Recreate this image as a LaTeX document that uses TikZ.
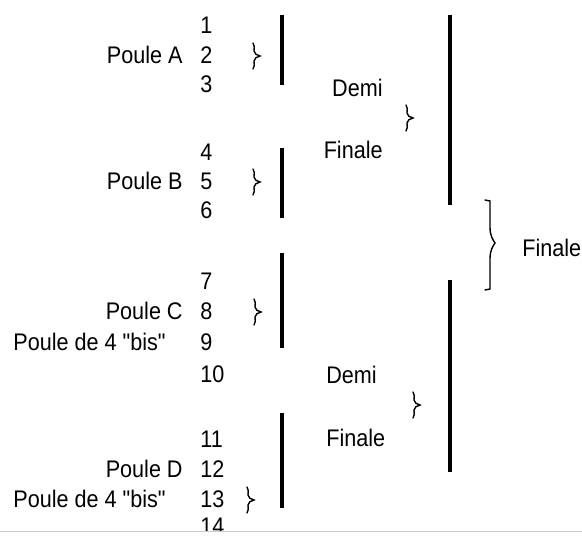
\documentclass[tikz,border=0pt]{standalone}
\usepackage{fontspec}
\setmainfont{Liberation Sans}[FakeStretch=0.9,Ligatures=TeXOff]
\usetikzlibrary{positioning}
\tikzset{every picture/.style={line width=0.75pt}}
% small curly brace, #1 = x of its back, #2 = y of its point
\newcommand{\pbrace}[2]{%
  \draw[brc] (#1-1,#2-13) .. controls (#1+1,#2-11) and (#1,#2-8) .. (#1,#2-5)
    .. controls (#1,#2-2) and (#1+3,#2-1) .. (#1+6,#2)
    .. controls (#1+3,#2+1) and (#1,#2+2) .. (#1,#2+5)
    .. controls (#1,#2+8) and (#1+1,#2+11) .. (#1-1,#2+13);}

\begin{document}
\begin{tikzpicture}[x=1pt,y=-1pt,font=\fontsize{24}{28}\selectfont,
    num/.style={anchor=base west,inner sep=0pt},
    lab/.style={anchor=base east,inner sep=0pt},
    bar/.style={line width=3.2pt},
    brc/.style={line width=1.4pt,line cap=round}]
    \useasboundingbox (0,0) rectangle (582,537);
    % seeds
    \node[num] (n1) at (200,34) {1};
    \node[num] (n2) at (200,64) {2};
    \node[num] (n3) at (200,93) {3};
    \node[num] (n4) at (200,161) {4};
    \node[num] (n5) at (200,190) {5};
    \node[num] (n6) at (200,219) {6};
    \node[num] (n7) at (200,290) {7};
    \node[num] (n8) at (200,320) {8};
    \node[num] (n9) at (200,351) {9};
    \node[num] (n10) at (200,383) {10};
    \node[num] (n11) at (200,448) {11};
    \node[num] (n12) at (200,478) {12};
    \node[num] (n13) at (200,508) {13};
    \begin{scope}
        \clip (0,0) rectangle (582,531);
        \node[num] (n14) at (200,535) {14};
    \end{scope}
    % pools
    \node[lab] (pA) at ([xshift=-17pt]n2.base west) {Poule A};
    \node[lab] (pB) at ([xshift=-17pt]n5.base west) {Poule B};
    \node[lab] (pC) at ([xshift=-17pt]n8.base west) {Poule C};
    \node[num] (bisC) at ([xshift=-187pt]n9.base west) {Poule de 4 "bis"};
    \node[lab] (pD) at ([xshift=-17pt]n12.base west) {Poule D};
    \node[num] (bisD) at ([xshift=-187pt]n13.base west) {Poule de 4 "bis"};
    % semi-finals
    \node[lab] (demi1) at (383,97) {Demi};
    \node[lab] (fin1) at (383,159) {Finale};
    \node[num] (demi2) at (326,384) {Demi};
    \node[num] (fin2) at (326,447) {Finale};
    \node[num] (fin) at (522,257) {Finale};
    % brackets
    \draw[bar] (282,15) -- (282,85);
    \draw[bar] (282,148) -- (282,218);
    \draw[bar] (282,253) -- (282,348);
    \draw[bar] (282,413) -- (282,508);
    \draw[bar] (450,15) -- (450,205);
    \draw[bar] (450,280) -- (450,472);
    \pbrace{254}{56}
    \pbrace{254}{182}
    \pbrace{255}{312}
    \pbrace{248}{500}
    \pbrace{407}{118}
    \pbrace{414}{405}
    \draw[brc] (485,200) -- (490,201) -- (490,227)
        .. controls (490,236) and (493,240) .. (495,243)
        .. controls (493,246) and (490,250) .. (490,259)
        -- (490,289) -- (485,290);
    \draw[gray!40,line width=1.2pt] (0,531.5) -- (582,531.5);
\end{tikzpicture}
\end{document}
